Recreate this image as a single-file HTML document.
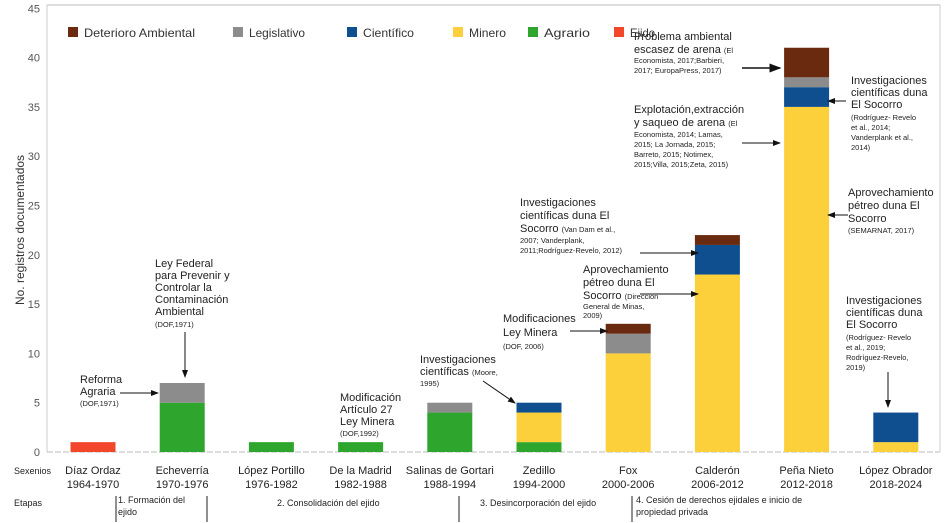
<!DOCTYPE html>
<html><head><meta charset="utf-8"><style>
body{margin:0;background:#fff;}
svg{display:block;font-family:"Liberation Sans",sans-serif;}
.a{font-size:11px;fill:#222}
.s{font-size:7.5px;fill:#222}
</style></head><body>
<svg id="chart" width="952" height="523">
<defs><marker id="ar" markerWidth="8" markerHeight="6" refX="7" refY="3" orient="auto"><path d="M0,0L8,3L0,6z" fill="#111"/></marker></defs>
<line x1="47" y1="5" x2="940" y2="5" stroke="#ddd" stroke-width="2"/>
<g id="axes"></g><g id="bars"></g><g id="legend"></g>
<text transform="translate(24,230) rotate(-90)" text-anchor="middle" font-size="12" fill="#333">No. registros documentados</text>
<g fill="#222">
<text class="a" x="80" y="383">Reforma</text><text class="a" x="80" y="395">Agraria</text><text class="s" x="80" y="406">(DOF,1971)</text>
<line x1="120" y1="393" x2="158" y2="393" stroke="#111" marker-end="url(#ar)"/>
<text class="a" x="155" y="267">Ley Federal</text><text class="a" x="155" y="279">para Prevenir y</text><text class="a" x="155" y="291">Controlar la</text><text class="a" x="155" y="303">Contaminación</text><text class="a" x="155" y="315">Ambiental</text><text class="s" x="155" y="327">(DOF,1971)</text>
<line x1="185" y1="332" x2="185" y2="377" stroke="#111" marker-end="url(#ar)"/>
<text class="a" x="340" y="401">Modificación</text><text class="a" x="340" y="413">Artículo 27</text><text class="a" x="340" y="425">Ley Minera</text><text class="s" x="340" y="436">(DOF,1992)</text>
<text class="a" x="420" y="363">Investigaciones</text><text class="a" x="420" y="375">científicas <tspan font-size="7.5">(Moore,</tspan></text><text class="s" x="420" y="386">1995)</text>
<line x1="483" y1="381" x2="515" y2="403" stroke="#111" marker-end="url(#ar)"/>
<text class="a" x="503" y="322">Modificaciones</text><text class="a" x="503" y="336">Ley Minera</text><text class="s" x="503" y="349">(DOF, 2006)</text>
<line x1="570" y1="331" x2="607" y2="331" stroke="#111" marker-end="url(#ar)"/>
<text class="a" x="520" y="206">Investigaciones</text><text class="a" x="520" y="219">científicas duna El</text><text class="a" x="520" y="232">Socorro <tspan font-size="7.5">(Van Dam et al.,</tspan></text><text class="s" x="520" y="243">2007; Vanderplank,</text><text class="s" x="520" y="253">2011;Rodríguez-Revelo, 2012)</text>
<line x1="640" y1="253" x2="698" y2="253" stroke="#111" marker-end="url(#ar)"/>
<text class="a" x="583" y="273">Aprovechamiento</text><text class="a" x="583" y="286">pétreo duna El</text><text class="a" x="583" y="299">Socorro <tspan font-size="7.5">(Dirección</tspan></text><text class="s" x="583" y="309">General de Minas,</text><text class="s" x="583" y="318">2009)</text>
<line x1="640" y1="294" x2="698" y2="294" stroke="#111" marker-end="url(#ar)"/>
<text class="a" x="634" y="40">Problema ambiental</text><text class="a" x="634" y="53">escasez de arena <tspan font-size="7.5">(El</tspan></text><text class="s" x="634" y="63">Economista, 2017;Barbieri,</text><text class="s" x="634" y="73">2017; EuropaPress, 2017)</text>
<line x1="742" y1="68" x2="780" y2="68" stroke="#111" stroke-width="1.5" marker-end="url(#ar)"/>
<text class="a" x="634" y="113">Explotación,extracción</text><text class="a" x="634" y="126">y saqueo de arena <tspan font-size="7.5">(El</tspan></text><text class="s" x="634" y="137">Economista, 2014; Lamas,</text><text class="s" x="634" y="147">2015; La Jornada, 2015;</text><text class="s" x="634" y="157">Barreto, 2015; Notimex,</text><text class="s" x="634" y="167">2015;Villa, 2015;Zeta, 2015)</text>
<line x1="742" y1="143" x2="780" y2="143" stroke="#111" marker-end="url(#ar)"/>
<text class="a" x="851" y="84">Investigaciones</text><text class="a" x="851" y="96">científicas duna</text><text class="a" x="851" y="108">El Socorro</text><text class="s" x="851" y="120">(Rodríguez- Revelo</text><text class="s" x="851" y="130">et al., 2014;</text><text class="s" x="851" y="140">Vanderplank et al.,</text><text class="s" x="851" y="150">2014)</text>
<line x1="846" y1="101" x2="828" y2="101" stroke="#111" marker-end="url(#ar)"/>
<text class="a" x="848" y="196">Aprovechamiento</text><text class="a" x="848" y="209">pétreo duna El</text><text class="a" x="848" y="222">Socorro</text><text class="s" x="848" y="233">(SEMARNAT, 2017)</text>
<line x1="848" y1="215" x2="828" y2="215" stroke="#111" marker-end="url(#ar)"/>
<text class="a" x="846" y="304">Investigaciones</text><text class="a" x="846" y="316">científicas duna</text><text class="a" x="846" y="328">El Socorro</text><text class="s" x="846" y="340">(Rodríguez- Revelo</text><text class="s" x="846" y="350">et al., 2019;</text><text class="s" x="846" y="360">Rodríguez-Revelo,</text><text class="s" x="846" y="370">2019)</text>
<line x1="888" y1="372" x2="888" y2="407" stroke="#111" marker-end="url(#ar)"/>
</g>
<line x1="940" y1="5" x2="940" y2="452" stroke="#ccc"/>
<g font-size="11" fill="#222">
<text x="14" y="474" font-size="9">Sexenios</text><text x="14" y="506" font-size="9">Etapas</text>
<g stroke="#222"><line x1="116" y1="496" x2="116" y2="522"/><line x1="207" y1="496" x2="207" y2="522"/><line x1="459" y1="496" x2="459" y2="522"/><line x1="632" y1="496" x2="632" y2="522"/></g>
<text x="118" y="503" font-size="9">1. Formación del</text><text x="118" y="515" font-size="9">ejido</text>
<text x="277" y="506" font-size="9">2. Consolidación del ejido</text>
<text x="480" y="506" font-size="9">3. Desincorporación del ejido</text>
<text x="636" y="503" font-size="9">4. Cesión de derechos ejidales e inicio de</text><text x="636" y="515" font-size="9">propiedad privada</text>
</g>
<g id="xlabels" font-size="11" fill="#222"></g>
</svg>
<script>
const categories=["Díaz Ordaz","Echeverría","López Portillo","De la Madrid","Salinas de Gortari","Zedillo","Fox","Calderón","Peña Nieto","López Obrador"];
const periods=["1964-1970","1970-1976","1976-1982","1982-1988","1988-1994","1994-2000","2000-2006","2006-2012","2012-2018","2018-2024"];
const seriesNames=["Ejido","Agrario","Minero","Científico","Legislativo","Deterioro Ambiental"];
const ejido=[1,0,0,0,0,0,0,0,0,0];
const agrario=[0,5,1,1,4,1,0,0,0,0];
const minero=[0,0,0,0,0,3,10,18,35,1];
const cientifico=[0,0,0,0,0,1,0,3,2,3];
const legislativo=[0,2,0,0,1,0,2,0,1,0];
const deterioro=[0,0,0,0,0,0,1,1,3,0];
const yTicks=[0,5,10,15,20,25,30,35,40,45];
const colors=["#f2472b","#2ea62e","#fcd03a","#0f4f90","#8c8c8c","#6a2a10"];
const NS="http://www.w3.org/2000/svg";
const y=v=>452-v*9.86;
const x=i=>93+i*89.2;
const bw=45;
function mk(t,a,p){const e=document.createElementNS(NS,t);for(const k in a)e.setAttribute(k,a[k]);p.appendChild(e);return e;}
const ax=document.getElementById('axes');
yTicks.forEach(t=>{const tx=mk('text',{x:40,y:y(t)+4,'text-anchor':'end','font-size':11,fill:'#555'},ax);tx.textContent=t;

});
mk('line',{x1:47,y1:5,x2:47,y2:452,stroke:'#ccc'},ax);
mk('line',{x1:47,y1:452,x2:940,y2:452,stroke:'#bbb','stroke-dasharray':'6 2'},ax);
const bars=document.getElementById('bars');
const data=[ejido,agrario,minero,cientifico,legislativo,deterioro];
categories.forEach((c,i)=>{let base=0;data.forEach((s,k)=>{const v=s[i];if(!v)return;
const r=mk('rect',{x:x(i)-bw/2,y:y(base+v),width:bw,height:y(base)-y(base+v),fill:colors[k]},bars);


base+=v;});});
const xl=document.getElementById('xlabels');
categories.forEach((c,i)=>{const t=mk('text',{x:x(i),y:474,'text-anchor':'middle'},xl);t.textContent=c;


const p=mk('text',{x:x(i),y:488,'text-anchor':'middle'},xl);p.textContent=periods[i];

});
const lg=document.getElementById('legend');
const legOrder=[5,4,3,2,1,0];const lx=[68,233,347,453,528,614];const lw=[111,56,51,37,46,25];
legOrder.forEach((k,j)=>{const g=mk('g',{},lg);


mk('rect',{x:lx[j],y:27,width:10,height:10,fill:colors[k]},g);
const t=mk('text',{x:lx[j]+16,y:37,'font-size':12,fill:'#333',textLength:lw[j],lengthAdjust:'spacingAndGlyphs'},g);t.textContent=seriesNames[k];});
</script>
</body></html>
